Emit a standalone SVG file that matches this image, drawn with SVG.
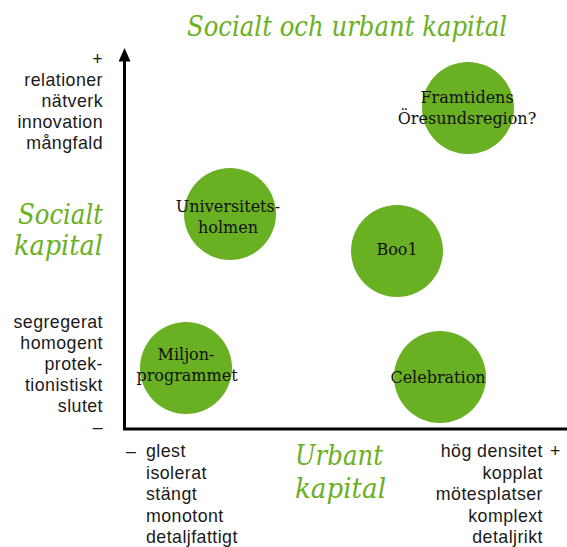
<svg xmlns="http://www.w3.org/2000/svg" width="567" height="547" viewBox="0 0 567 547">
<style>
.title{font-family:"DejaVu Serif","Liberation Serif",serif;font-style:italic;fill:#6ab023;font-size:28px}
.lbl{font-family:"Liberation Sans",Arial,sans-serif;font-size:17.8px;letter-spacing:0.45px;fill:#1a1a1a}
.node circle{fill:#6ab023}
.node text{font-family:"DejaVu Serif","Liberation Serif",serif;font-size:16px;fill:#111;text-anchor:middle}
.axis{stroke:#000;stroke-width:3;fill:none}
</style>
<defs>
<marker id="ah" markerWidth="5" markerHeight="4" refX="0.5" refY="2" orient="auto" markerUnits="strokeWidth">
<path d="M0,0 L4.5,2 L0,4 Z" fill="#000"/>
</marker>
</defs>
<rect width="567" height="547" fill="#fff"/>
<text class="title" x="187" y="36" textLength="320" lengthAdjust="spacingAndGlyphs">Socialt och urbant kapital</text>
<text class="title" x="18" y="224" textLength="85" lengthAdjust="spacingAndGlyphs">Socialt</text>
<text class="title" x="14" y="255" textLength="89" lengthAdjust="spacingAndGlyphs">kapital</text>
<text class="title" x="295" y="465" textLength="88" lengthAdjust="spacingAndGlyphs">Urbant</text>
<text class="title" x="295" y="498" textLength="91" lengthAdjust="spacingAndGlyphs">kapital</text>
<g id="connectors">
<polyline class="axis" points="567,429 124.5,429 124.5,60" marker-end="url(#ah)"/>
</g>
<g class="lbl" text-anchor="end">
<text x="103" y="65">+</text>
<text x="103" y="86">relationer</text>
<text x="103" y="107">nätverk</text>
<text x="103" y="128">innovation</text>
<text x="103" y="149">mångfald</text>
<text x="103" y="328">segregerat</text>
<text x="103" y="349">homogent</text>
<text x="103" y="370">protek-</text>
<text x="103" y="391">tionistiskt</text>
<text x="103" y="412">slutet</text>
<text x="103" y="433">–</text>
<text x="543" y="457">hög densitet</text>
<text x="543" y="478.5">kopplat</text>
<text x="543" y="500">mötesplatser</text>
<text x="543" y="521.5">komplext</text>
<text x="543" y="543">detaljrikt</text>
</g>
<g class="lbl">
<text x="126" y="457">–</text>
<text x="146" y="457">glest</text>
<text x="146" y="478.5">isolerat</text>
<text x="146" y="500">stängt</text>
<text x="146" y="521.5">monotont</text>
<text x="146" y="543">detaljfattigt</text>
<text x="550" y="457">+</text>
</g>
<g id="framtidens" class="node"><circle cx="468" cy="108" r="46"/><text x="467" y="103">Framtidens</text><text x="467" y="124">Öresundsregion?</text></g>
<g id="universitetsholmen" class="node"><circle cx="230" cy="214" r="46"/><text x="228" y="212">Universitets-</text><text x="228" y="233">holmen</text></g>
<g id="bo01" class="node"><circle cx="397" cy="251" r="46"/><text x="397" y="255">Boo1</text></g>
<g id="miljonprogrammet" class="node"><circle cx="186" cy="368" r="46"/><text x="186" y="360">Miljon-</text><text x="187" y="381">programmet</text></g>
<g id="celebration" class="node"><circle cx="440" cy="377" r="46"/><text x="438" y="383">Celebration</text></g>
</svg>
